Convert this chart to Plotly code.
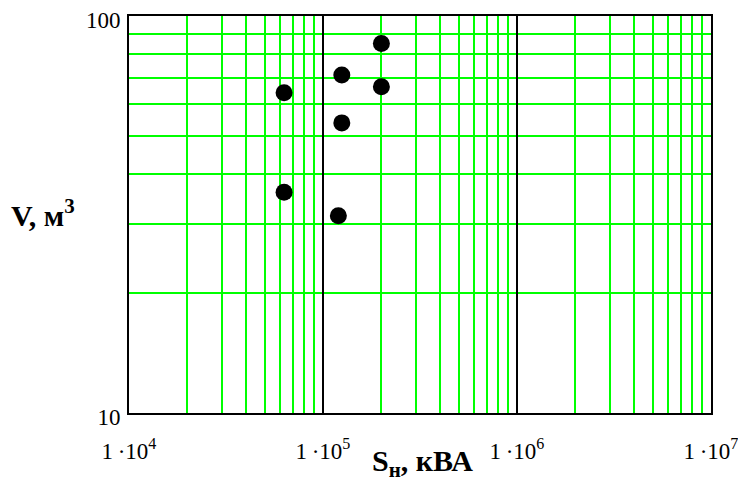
import plotly.graph_objects as go

# data
power_kva = [200000, 125000, 200000, 63000, 125000, 63000, 120000]
volume_m3 = [85.3, 71.0, 66.3, 64.1, 53.8, 36.0, 31.4]

x_major = [1e4, 1e5, 1e6, 1e7]
x_major_text = ["1\u2009·10<sup>4</sup>", "1\u2009·10<sup>5</sup>", "1\u2009·10<sup>6</sup>", "1\u2009·10<sup>7</sup>"]
y_major = [10, 100]
y_major_text = ["10", "100"]
x_minor = [m * d for d in (1e4, 1e5, 1e6) for m in range(2, 10)]
y_minor = [m * 10 for m in range(2, 10)]

FONT = "Liberation Serif"
GREEN = "#00ff00"

fig = go.Figure()
fig.add_trace(go.Scatter(
    x=power_kva, y=volume_m3, mode="markers",
    marker=dict(size=17, color="black"),
    showlegend=False, hoverinfo="x+y",
))

fig.update_xaxes(
    type="log", range=[4, 7], automargin=False,
    tickmode="array", tickvals=x_major, ticktext=x_major_text,
    showgrid=True, gridcolor="black", gridwidth=1.7,
    minor=dict(tickvals=x_minor, showgrid=True, gridcolor=GREEN, gridwidth=1.5, ticks=""),
    ticks="", showline=True, linecolor="black", linewidth=2, mirror=True,
    tickfont=dict(family=FONT, size=23, color="black"),
    ticklabelstandoff=16, ticklabeloverflow="allow",
    zeroline=False,
)
fig.update_yaxes(
    type="log", range=[1, 2], automargin=False,
    tickmode="array", tickvals=y_major, ticktext=y_major_text,
    showgrid=False,
    minor=dict(tickvals=y_minor, showgrid=True, gridcolor=GREEN, gridwidth=1.5, ticks=""),
    ticks="", showline=True, linecolor="black", linewidth=2, mirror=True,
    tickfont=dict(family=FONT, size=23, color="black"),
    ticklabelshift=4, ticklabelstandoff=2, ticklabeloverflow="allow",
    zeroline=False,
)

fig.add_annotation(
    text="<b>V, м<sup>3</sup></b>", xref="paper", yref="paper",
    x=-0.089, y=0.505, xanchor="right", yanchor="middle", showarrow=False,
    font=dict(family=FONT, size=30, color="black"),
)
fig.add_annotation(
    text="<b>S<sub>н</sub>, кВА</b>", xref="paper", yref="paper",
    x=0.505, y=-0.126, xanchor="center", yanchor="middle", showarrow=False,
    font=dict(family=FONT, size=30, color="black"),
)

fig.update_layout(
    width=738, height=484,
    margin=dict(l=129, r=27, t=16, b=71),
    paper_bgcolor="white", plot_bgcolor="white",
)

fig.write_html(
    "out.html",
    config={"displayModeBar": False},
    post_script="document.body.style.margin='0';document.body.style.overflow='hidden';",
)
